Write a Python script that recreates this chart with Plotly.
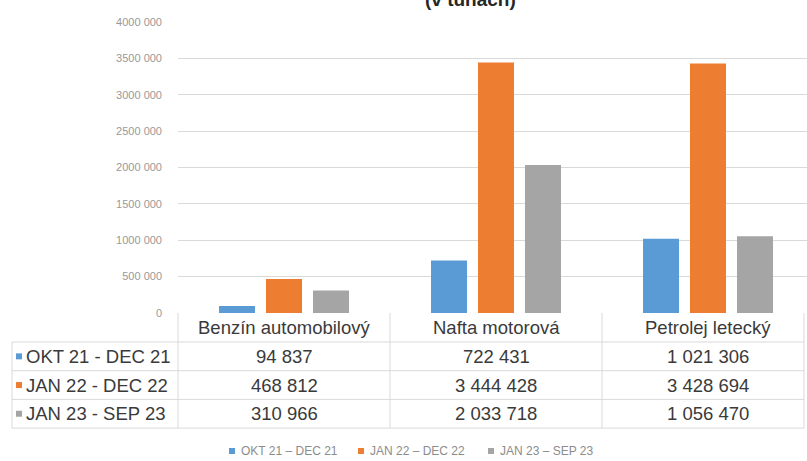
import plotly.graph_objects as go

categories = ["Benzín automobilový", "Nafta motorová", "Petrolej letecký"]
series_names = ["OKT 21 - DEC 21", "JAN 22 - DEC 22", "JAN 23 - SEP 23"]
okt21_dec21 = [94837, 722431, 1021306]
jan22_dec22 = [468812, 3444428, 3428694]
jan23_sep23 = [310966, 2033718, 1056470]
series_values = [okt21_dec21, jan22_dec22, jan23_sep23]
colors = ["#5B9BD5", "#ED7D31", "#A5A5A5"]
tick_vals = [0, 500000, 1000000, 1500000, 2000000, 2500000, 3000000, 3500000, 4000000]
tick_text = ["0", "500 000", "1000 000", "1500 000", "2000 000", "2500 000", "3000 000", "3500 000", "4000 000"]
legend_text = ["OKT 21 – DEC 21", "JAN 22 – DEC 22", "JAN 23 – SEP 23"]
title_text = "(v tunách)"

W, H = 807, 461
L, R, T, B = 178, 0, 22, 148
PW = W - L - R
PH = H - T - B


def fx(px):
    return (px - L) / PW


def fy(py):
    return (H - B - py) / PH


def fmt(v):
    return f"{v:,}".replace(",", " ")


fig = go.Figure()
for name, vals, col in zip(series_names, series_values, colors):
    fig.add_trace(go.Bar(x=categories, y=vals, name=name, showlegend=False,
                         marker=dict(color=col, line=dict(width=0))))

grid = "#D9D9D9"
shapes = []
ann = []

col_w = 212
col_edges = [L + i * col_w for i in range(len(categories) + 1)]
right_edge = 804
header_top, header_bot = 313, 342
row_h = 28.7
row_tops = [header_bot + i * row_h for i in range(len(series_names) + 1)]
left_x = 12


def line(x0, y0, x1, y1):
    shapes.append(dict(type="line", xref="paper", yref="paper", x0=fx(x0), y0=fy(y0), x1=fx(x1), y1=fy(y1),
                       line=dict(color=grid, width=1), layer="below"))


for yy in row_tops:
    line(left_x, yy, right_edge, yy)
line(left_x, header_bot, left_x, row_tops[-1])
for xe in col_edges[:-1]:
    line(xe, header_top, xe, row_tops[-1])
line(right_edge, header_top, right_edge, row_tops[-1])

FONT = "Liberation Sans, Arial, sans-serif"
txt_font = dict(family=FONT, size=18.5, color="#3A3A3A")

for i, c in enumerate(categories):
    ann.append(dict(x=fx(L + (i + 0.5) * col_w), y=fy((header_top + header_bot) / 2), xref="paper", yref="paper",
                    text=c, showarrow=False, font=txt_font, xanchor="center", yanchor="middle"))

for r, (name, vals, col) in enumerate(zip(series_names, series_values, colors)):
    yc = (row_tops[r] + row_tops[r + 1]) / 2
    shapes.append(dict(type="rect", xref="paper", yref="paper", x0=fx(16), x1=fx(22), y0=fy(yc - 3), y1=fy(yc + 3),
                       fillcolor=col, line=dict(width=0)))
    ann.append(dict(x=fx(24), y=fy(yc), xref="paper", yref="paper", text=name, showarrow=False,
                    font=txt_font, xanchor="left", yanchor="middle"))
    for i, v in enumerate(vals):
        ann.append(dict(x=fx(L + (i + 0.5) * col_w), y=fy(yc), xref="paper", yref="paper", text=fmt(v),
                        showarrow=False, font=txt_font, xanchor="center", yanchor="middle"))

# bottom legend built from squares + text
leg_x = [229, 358, 488]
leg_y = 451
for lx, lt, col in zip(leg_x, legend_text, colors):
    shapes.append(dict(type="rect", xref="paper", yref="paper", x0=fx(lx), x1=fx(lx + 6), y0=fy(leg_y - 3),
                       y1=fy(leg_y + 3), fillcolor=col, line=dict(width=0)))
    ann.append(dict(x=fx(lx + 10), y=fy(leg_y), xref="paper", yref="paper", text=lt, showarrow=False,
                    font=dict(family=FONT, size=12, color="#8C8C8C"), xanchor="left", yanchor="middle"))

ann.append(dict(x=fx(470), y=fy(12), xref="paper", yref="paper", text="<b>" + title_text + "</b>", showarrow=False,
                font=dict(family=FONT, size=19, color="#262626"), xanchor="center", yanchor="bottom"))

fig.update_layout(
    width=W, height=H,
    margin=dict(l=L, r=R, t=T, b=B, pad=0),
    paper_bgcolor="white", plot_bgcolor="white",
    barmode="group", bargap=0.335, bargroupgap=0.234,
    xaxis=dict(range=[-0.5, -0.5 + PW / col_w], showticklabels=False, showgrid=False, zeroline=False,
               showline=False, ticks="", fixedrange=True),
    yaxis=dict(range=[0, 4000000], tickvals=tick_vals, ticktext=tick_text, showgrid=True, gridcolor=grid,
               gridwidth=1, zeroline=False, showline=False, ticks="", ticklabelstandoff=15,
               tickfont=dict(family=FONT, size=11, color="#999999")),
    shapes=shapes,
    annotations=ann,
    showlegend=False,
)

fig.write_html("out.html")
